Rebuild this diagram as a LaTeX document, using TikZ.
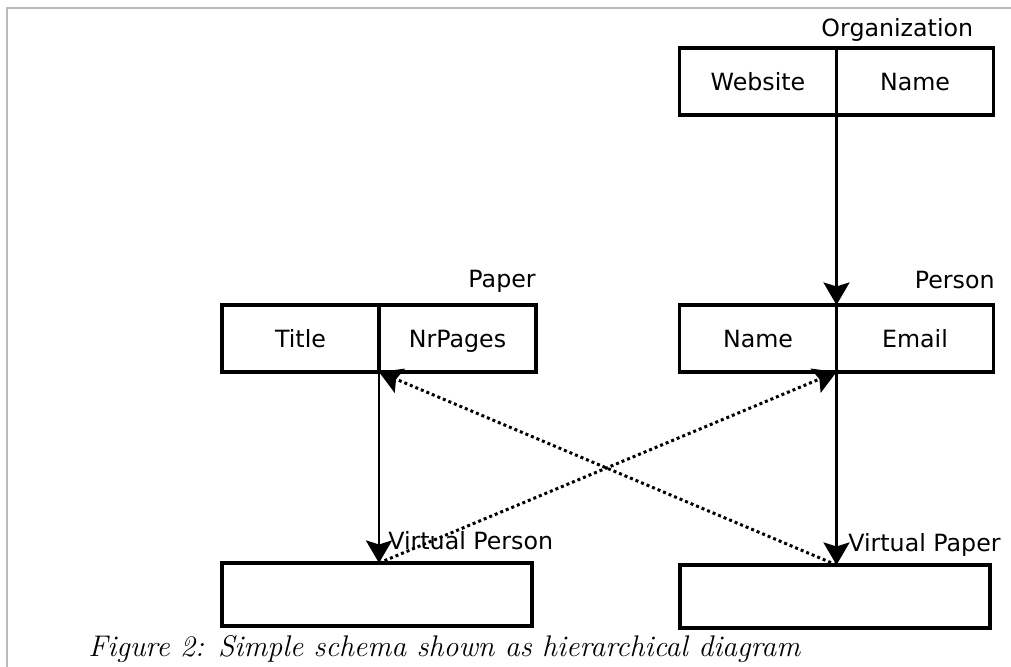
\documentclass[tikz,border=0pt]{standalone}
\usepackage{fontspec}
\newfontfamily\labelfont{DejaVu Sans}
\usetikzlibrary{arrows.meta,calc,positioning}
\tikzset{
  cell/.style={draw, line width=2.2pt, outer sep=0pt, inner sep=0pt,
    minimum width=3.14cm, minimum height=1.34cm,
    text height=1em, text depth=0pt,
    font=\labelfont\fontsize{13.5}{16}\selectfont},
  title/.style={inner sep=0pt, font=\labelfont\fontsize{13.5}{16}\selectfont},
  link/.style={line width=1.7pt, -{Stealth[length=0.45cm,width=0.52cm,inset=0.08cm]}},
  ref/.style={link, dash pattern=on 1.7pt off 1.7pt}
}
\begin{document}
\begin{tikzpicture}
  \useasboundingbox (0,0) rectangle (20.22,13.34);
  \draw[gray!55, line width=0.6pt] (20.22,13.18) -- (0.14,13.18) -- (0.14,0);
  % tables
  \node[cell] (orgweb) at (15.16,11.71) {Website};
  \node[cell, right=0pt of orgweb] (orgname) {Name};
  \node[cell] (papertitle) at (6.01,6.57) {Title};
  \node[cell, right=0pt of papertitle] (paperpages) {NrPages};
  \node[cell] (personname) at (15.16,6.57) {Name};
  \node[cell, right=0pt of personname] (personmail) {Email};
  \node[cell, minimum width=6.2cm, minimum height=1.26cm] (vperson) at (7.54,1.45) {};
  \node[cell, minimum width=6.2cm, minimum height=1.26cm] (vpaper) at (16.7,1.41) {};
  % table titles
  \node[title, anchor=base east] (orgtitle) at ($(orgname.north east)+(-0.4,0.22)$) {Organization};
  \node[title, anchor=base east] (papertitlelabel) at ($(paperpages.north east)+(0,0.34)$) {Paper};
  \node[title, anchor=base east] (persontitle) at ($(personmail.north east)+(0.03,0.32)$) {Person};
  \node[title, anchor=base west] (vpersontitle) at ($(vperson.north west)+(3.32,0.26)$) {Virtual Person};
  \node[title, anchor=base west] (vpapertitle) at ($(vpaper.north west)+(3.36,0.26)$) {Virtual Paper};
  % where the links hit the virtual tables
  \coordinate (vpersonin) at (papertitle.south east |- vperson.north);
  \coordinate (vpaperin) at (personname.south east |- vpaper.north);
  \draw[link] (orgweb.south east) -- (personname.north east);
  \draw[link] (papertitle.south east) -- (vpersonin);
  \draw[link] (personname.south east) -- (vpaperin);
  \draw[ref] (vpersonin) -- (personname.south east);
  \draw[ref] (vpaperin) -- (papertitle.south east);
  \node[anchor=base west, inner sep=0pt, font=\itshape\fontsize{17}{20}\selectfont] (caption) at (1.76,0.2)
    {Figure 2: Simple schema shown as hierarchical diagram};
\end{tikzpicture}
\end{document}
